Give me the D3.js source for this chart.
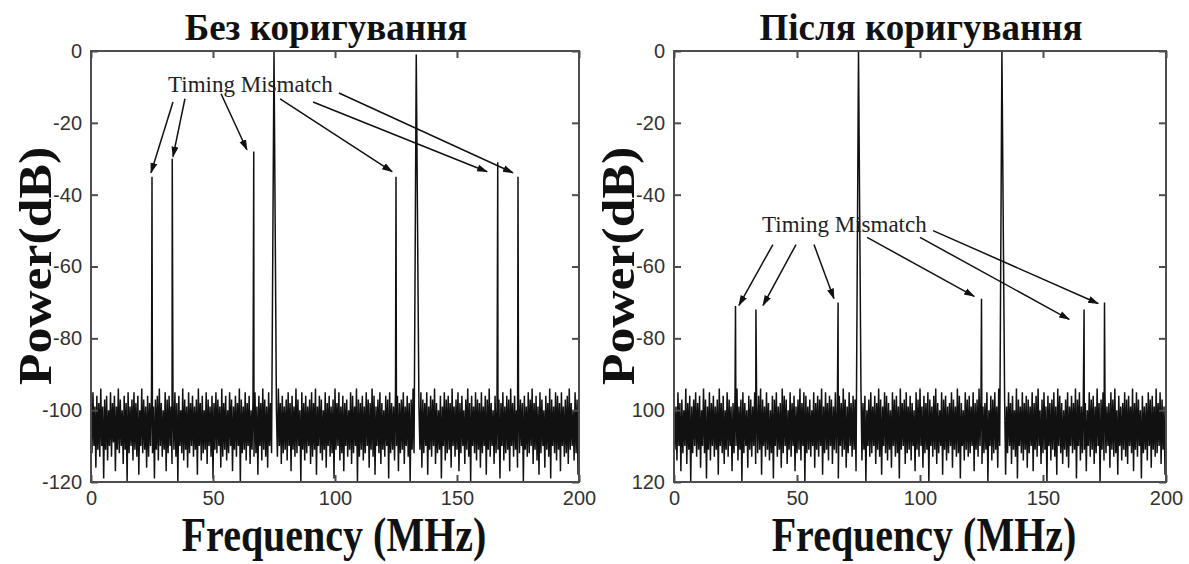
<!DOCTYPE html>
<html>
<head>
<meta charset="utf-8">
<script src="https://cdn.jsdelivr.net/npm/d3@7"></script>
<style>
  body { margin: 0; background: #fff; }
  svg { display: block; }
  .tick text { font-family: "Liberation Sans", Arial, sans-serif; font-size: 20px; fill: #333; }
  .tick line { stroke: #4d4d4d; stroke-width: 2; }
  .big { font-family: "Liberation Serif", "Times New Roman", serif; font-weight: bold; fill: #111; }
  .note { font-family: "Liberation Serif", "Times New Roman", serif; font-size: 23px; fill: #222; }
</style>
</head>
<body>
<div id="chart"></div>
<script>
// spectrum sample spacing (MHz) and tick values
var freqStep = 0.4;
const xTicks = [0, 50, 100, 150, 200];
const yTicks = [0, -20, -40, -60, -80, -100, -120];
const yTickLabelsLeft  = ['0', '-20', '-40', '-60', '-80', '-100', '-120'];
const yTickLabelsRight = ['0', '-20', '-40', '-60', '-80', '100', '120'];

// tones (MHz): two input signals at 75 and 133.3, the rest are mismatch spurs
const toneFreqs = [25, 33.3, 66.7, 75, 125, 133.3, 166.7, 175];
const mainTones = [75, 133.3];
const peaksLeft  = [-35, -30, -28, 0, -35, -1, -31, -35];
const peaksRight = [-71, -72, -70, 0, -69, 0, -72, -70];

// noise floor, one value every 0.4 MHz (dB)
const noiseLeft = [
  -97,-112,-95,-110,-99,-116,-96,-111,-98,-113,-94,-110,-99,-119,-97,-111,-96,-114,-100,-110,
  -95,-113,-98,-109,-96,-117,-99,-111,-94,-112,-97,-110,-100,-115,-96,-111,-98,-120,-95,-112,
  -99,-110,-97,-114,-95,-111,-98,-113,-96,-118,-100,-110,-94,-112,-97,-111,-99,-116,-96,-113,
  -98,-110,-95,-112,-99,-119,-97,-111,-96,-114,-94,-110,-98,-113,-100,-111,-95,-117,-97,-112,
  -96,-110,-99,-115,-97,-111,-95,-113,-98,-120,-96,-110,-100,-112,-94,-114,-97,-111,-99,-116,
  -95,-112,-98,-110,-96,-113,-99,-111,-97,-118,-94,-110,-98,-114,-96,-112,-100,-111,-95,-115,
  -97,-110,-99,-113,-96,-119,-98,-111,-95,-112,-97,-110,-99,-116,-94,-113,-98,-111,-96,-114,
  -100,-112,-95,-110,-97,-117,-99,-111,-96,-113,-98,-110,-94,-120,-97,-112,-99,-111,-95,-114,
  -98,-110,-96,-115,-100,-111,-97,-113,-95,-112,-99,-118,-96,-110,-98,-114,-94,-111,-97,-113,
  -99,-116,-95,-110,-98,-112,-96,-119,-97,-111,-100,-113,-94,-110,-98,-115,-96,-112,-99,-111,
  -97,-114,-95,-110,-98,-117,-96,-111,-99,-113,-94,-112,-97,-110,-100,-120,-95,-111,-98,-114,
  -96,-112,-99,-110,-97,-115,-95,-113,-98,-111,-94,-118,-99,-110,-96,-112,-97,-114,-100,-111,
  -95,-116,-98,-110,-96,-113,-99,-112,-97,-119,-94,-111,-98,-110,-95,-114,-99,-112,-96,-117,
  -98,-110,-97,-113,-100,-111,-95,-115,-96,-112,-99,-110,-94,-120,-97,-113,-98,-111,-96,-114,
  -99,-112,-95,-110,-97,-116,-98,-111,-94,-113,-96,-118,-99,-110,-97,-112,-95,-115,-98,-111,
  -100,-113,-96,-110,-97,-119,-95,-112,-98,-111,-99,-114,-94,-110,-96,-117,-98,-112,-97,-111,
  -95,-115,-99,-110,-96,-113,-98,-120,-97,-111,-94,-112,-100,-110,-96,-114,-99,-111,-95,-116,
  -97,-112,-98,-110,-95,-118,-99,-111,-96,-113,-97,-110,-94,-115,-98,-112,-100,-111,-96,-119,
  -99,-110,-95,-114,-97,-112,-96,-111,-98,-116,-94,-110,-99,-113,-97,-111,-95,-117,-98,-112,
  -96,-110,-100,-115,-97,-111,-94,-113,-98,-120,-96,-110,-99,-112,-95,-114,-97,-111,-98,-116,
  -95,-112,-99,-110,-96,-118,-97,-111,-94,-113,-98,-110,-100,-115,-96,-112,-99,-111,-97,-119,
  -98,-110,-95,-114,-99,-112,-96,-111,-97,-117,-94,-110,-98,-113,-96,-111,-100,-116,-95,-112,
  -97,-110,-98,-120,-96,-111,-99,-113,-95,-112,-97,-110,-94,-115,-98,-111,-96,-114,-99,-118,
  -95,-112,-97,-110,-100,-116,-96,-111,-98,-113,-94,-119,-97,-110,-99,-112,-95,-114,-96,-111,
  -98,-117,-95,-110,-99,-113,-97,-112,-96,-115,-94,-111,-98,-110,-100,-114,-95,-112,-97,-118,
  -96
];
const noiseRight = [
  -96,-111,-99,-114,-95,-110,-98,-117,-97,-112,-100,-110,-94,-115,-98,-111,-96,-120,-99,-112,
  -97,-110,-95,-113,-98,-111,-96,-116,-100,-110,-94,-112,-97,-119,-99,-111,-95,-114,-98,-110,
  -96,-113,-99,-111,-97,-118,-94,-110,-98,-112,-96,-115,-100,-111,-95,-113,-97,-110,-99,-117,
  -98,-112,-96,-110,-94,-114,-99,-111,-97,-120,-95,-112,-98,-110,-100,-116,-96,-111,-97,-113,
  -99,-110,-95,-115,-98,-112,-96,-111,-94,-118,-97,-110,-99,-113,-95,-111,-98,-114,-100,-112,
  -96,-119,-97,-110,-95,-113,-99,-111,-98,-116,-94,-112,-96,-110,-97,-115,-100,-111,-95,-113,
  -98,-110,-96,-117,-99,-112,-97,-111,-94,-114,-98,-110,-95,-120,-96,-112,-99,-111,-97,-113,
  -100,-110,-95,-116,-98,-111,-96,-113,-97,-110,-94,-118,-99,-112,-95,-111,-98,-114,-96,-110,
  -97,-115,-99,-111,-95,-112,-100,-119,-96,-110,-98,-113,-94,-111,-97,-116,-99,-112,-95,-110,
  -98,-113,-96,-111,-97,-117,-95,-110,-99,-112,-94,-114,-98,-111,-96,-120,-100,-110,-97,-113,
  -95,-112,-99,-110,-96,-115,-98,-111,-94,-113,-97,-118,-99,-110,-95,-112,-96,-114,-98,-111,
  -100,-116,-95,-110,-97,-113,-96,-112,-99,-119,-94,-111,-98,-110,-97,-115,-95,-112,-99,-111,
  -96,-114,-98,-110,-100,-117,-95,-111,-97,-113,-94,-110,-99,-116,-96,-112,-98,-111,-95,-120,
  -97,-110,-99,-113,-96,-111,-94,-115,-98,-112,-100,-110,-95,-118,-97,-111,-96,-114,-99,-112,
  -98,-110,-95,-116,-97,-111,-99,-113,-94,-112,-96,-119,-98,-110,-100,-114,-95,-111,-97,-113,
  -96,-112,-99,-110,-95,-117,-98,-111,-97,-113,-94,-110,-96,-115,-99,-112,-98,-111,-95,-120,
  -100,-110,-96,-114,-97,-112,-95,-111,-99,-116,-94,-110,-98,-113,-96,-111,-97,-118,-99,-112,
  -95,-110,-98,-115,-96,-111,-100,-113,-94,-119,-97,-110,-99,-112,-95,-114,-98,-111,-96,-116,
  -97,-112,-99,-110,-95,-117,-98,-111,-96,-113,-94,-110,-100,-115,-97,-112,-95,-111,-99,-120,
  -96,-110,-98,-114,-97,-111,-95,-113,-99,-118,-94,-110,-96,-112,-98,-115,-100,-111,-97,-113,
  -95,-116,-99,-110,-96,-112,-98,-111,-94,-119,-97,-110,-95,-114,-99,-112,-96,-111,-98,-117,
  -100,-110,-95,-113,-97,-111,-96,-115,-99,-112,-94,-110,-98,-120,-97,-111,-95,-114,-96,-112,
  -99,-110,-98,-116,-95,-111,-97,-113,-94,-112,-100,-118,-96,-110,-99,-114,-98,-111,-95,-113,
  -97,-115,-96,-110,-99,-112,-94,-117,-98,-111,-95,-113,-97,-110,-100,-119,-96,-112,-99,-111,
  -98,-114,-95,-110,-97,-116,-96,-111,-99,-113,-94,-112,-98,-110,-95,-115,-97,-111,-99,-118,
  -97
];

// "Timing Mismatch" annotations, in data units [MHz, dB]
const noteText = 'Timing Mismatch';
const noteLeft  = [31.6, -11.4];
const noteRight = [35.8, -50.3];
const tailsLeft  = [[33.6,-14.2],[38.5,-13.3],[53.3,-11.9],[77.5,-13.3],[91,-14.2],[101.6,-11.7]];
const headsLeft  = [[24.6,-33.9],[33.6,-29.4],[63.9,-27.5],[123.4,-33.6],[162.3,-33.6],[172.9,-33.9]];
const tailsRight = [[40.2,-53.9],[49.6,-53.9],[56.9,-53.9],[78.5,-51.9],[100,-51.9],[105.3,-50]];
const headsRight = [[26.4,-70.8],[36.2,-70.8],[65.0,-68.9],[122.0,-68.3],[160.6,-74.7],[172.4,-70.3]];

const width = 1189, height = 564;

const svg = d3.select('#chart').append('svg')
	.attr('width', width)
	.attr('height', height);

var defs = svg.append('defs');
defs.append('marker')
	.attr('id', 'arrowhead')
	.attr('viewBox', '0 0 10 10')
	.attr('refX', 9).attr('refY', 5)
	.attr('markerWidth', 11).attr('markerHeight', 11)
	.attr('markerUnits', 'userSpaceOnUse')
	.attr('orient', 'auto')
	.append('path')
	.attr('d', 'M0,1.8 L10,5 L0,8.2 Z')
	.attr('fill', '#111');

function buildSeries(noise, peaks)
{
	var pts = noise.map((v, i) => ({f: i * freqStep, p: v}));
	toneFreqs.forEach((f, k) => {
		// clear a little gap next to the big input tones
		if (mainTones.indexOf(f) >= 0) pts = pts.filter(d => Math.abs(d.f - f) > 0.9);
		pts.push({f: f, p: peaks[k]});
	});
	pts.sort((a, b) => a.f - b.f);
	return pts;
}

function drawPanel(opt)
{
	var x = d3.scaleLinear().domain([0, 200]).range([opt.left, opt.right]);
	var y = d3.scaleLinear().domain([-120, 0]).range([opt.bottom, opt.top]);

	var g = svg.append('g');

	g.append('clipPath').attr('id', opt.id + '-clip')
		.append('rect')
		.attr('x', opt.left).attr('y', opt.top)
		.attr('width', opt.right - opt.left).attr('height', opt.bottom - opt.top);

	var line = d3.line()
		.x(d => x(d.f))
		.y(d => y(d.p));

	g.append('path')
		.datum(buildSeries(opt.noise, opt.peaks))
		.attr('clip-path', 'url(#' + opt.id + '-clip)')
		.attr('d', line)
		.attr('fill', 'none')
		.attr('stroke', '#111')
		.attr('stroke-width', 1.5)
		.attr('stroke-linejoin', 'bevel');

	// axes with inward ticks on all four sides
	g.append('g')
		.attr('transform', 'translate(0,' + opt.bottom + ')')
		.call(d3.axisBottom(x).tickValues(xTicks).tickSize(-7).tickPadding(9))
		.call(a => a.select('.domain').remove());
	g.append('g')
		.attr('transform', 'translate(0,' + opt.top + ')')
		.call(d3.axisTop(x).tickValues(xTicks).tickSize(-7).tickFormat(''))
		.call(a => a.select('.domain').remove());
	g.append('g')
		.attr('transform', 'translate(' + opt.left + ',0)')
		.call(d3.axisLeft(y).tickValues(yTicks).tickSize(-7).tickPadding(9)
			.tickFormat((d, i) => opt.yLabels[i]))
		.call(a => a.select('.domain').remove());
	g.append('g')
		.attr('transform', 'translate(' + opt.right + ',0)')
		.call(d3.axisRight(y).tickValues(yTicks).tickSize(-7).tickFormat(''))
		.call(a => a.select('.domain').remove());

	g.append('rect')
		.attr('x', opt.left).attr('y', opt.top)
		.attr('width', opt.right - opt.left).attr('height', opt.bottom - opt.top)
		.attr('fill', 'none')
		.attr('stroke', '#4d4d4d')
		.attr('stroke-width', 2);

	// annotation
	g.append('text')
		.attr('class', 'note')
		.attr('x', x(opt.note[0]))
		.attr('y', y(opt.note[1]))
		.text(noteText);

	g.selectAll('.arrow')
		.data(opt.tails)
		.enter().append('line')
		.attr('class', 'arrow')
		.attr('x1', d => x(d[0]))
		.attr('y1', d => y(d[1]))
		.attr('x2', (d, i) => x(opt.heads[i][0]))
		.attr('y2', (d, i) => y(opt.heads[i][1]))
		.attr('stroke', '#111')
		.attr('stroke-width', 1.5)
		.attr('marker-end', 'url(#arrowhead)');

	// titles and axis labels (the source figure is a bit stretched vertically)
	g.append('text')
		.attr('class', 'big')
		.attr('text-anchor', 'middle')
		.attr('font-size', 37)
		.attr('transform', 'translate(' + opt.titleX + ',40) scale(1,1.05)')
		.text(opt.title);

	g.append('text')
		.attr('class', 'big')
		.attr('text-anchor', 'middle')
		.attr('font-size', 40)
		.attr('transform', 'translate(' + opt.xLabelX + ',551) scale(1,1.2)')
		.text('Frequency (MHz)');

	g.append('text')
		.attr('class', 'big')
		.attr('text-anchor', 'middle')
		.attr('font-size', 47)
		.attr('transform', 'translate(' + opt.yLabelX + ',266) scale(1,1.1) rotate(-90)')
		.text('Power(dB)');
}

drawPanel({
	id: 'left', left: 91, right: 579, top: 51, bottom: 482,
	noise: noiseLeft, peaks: peaksLeft, yLabels: yTickLabelsLeft,
	note: noteLeft, tails: tailsLeft, heads: headsLeft,
	title: 'Без коригування', titleX: 326, xLabelX: 334, yLabelX: 51
});

drawPanel({
	id: 'right', left: 674, right: 1166, top: 51, bottom: 482,
	noise: noiseRight, peaks: peaksRight, yLabels: yTickLabelsRight,
	note: noteRight, tails: tailsRight, heads: headsRight,
	title: 'Після коригування', titleX: 921, xLabelX: 924, yLabelX: 634
});
</script>
</body>
</html>
